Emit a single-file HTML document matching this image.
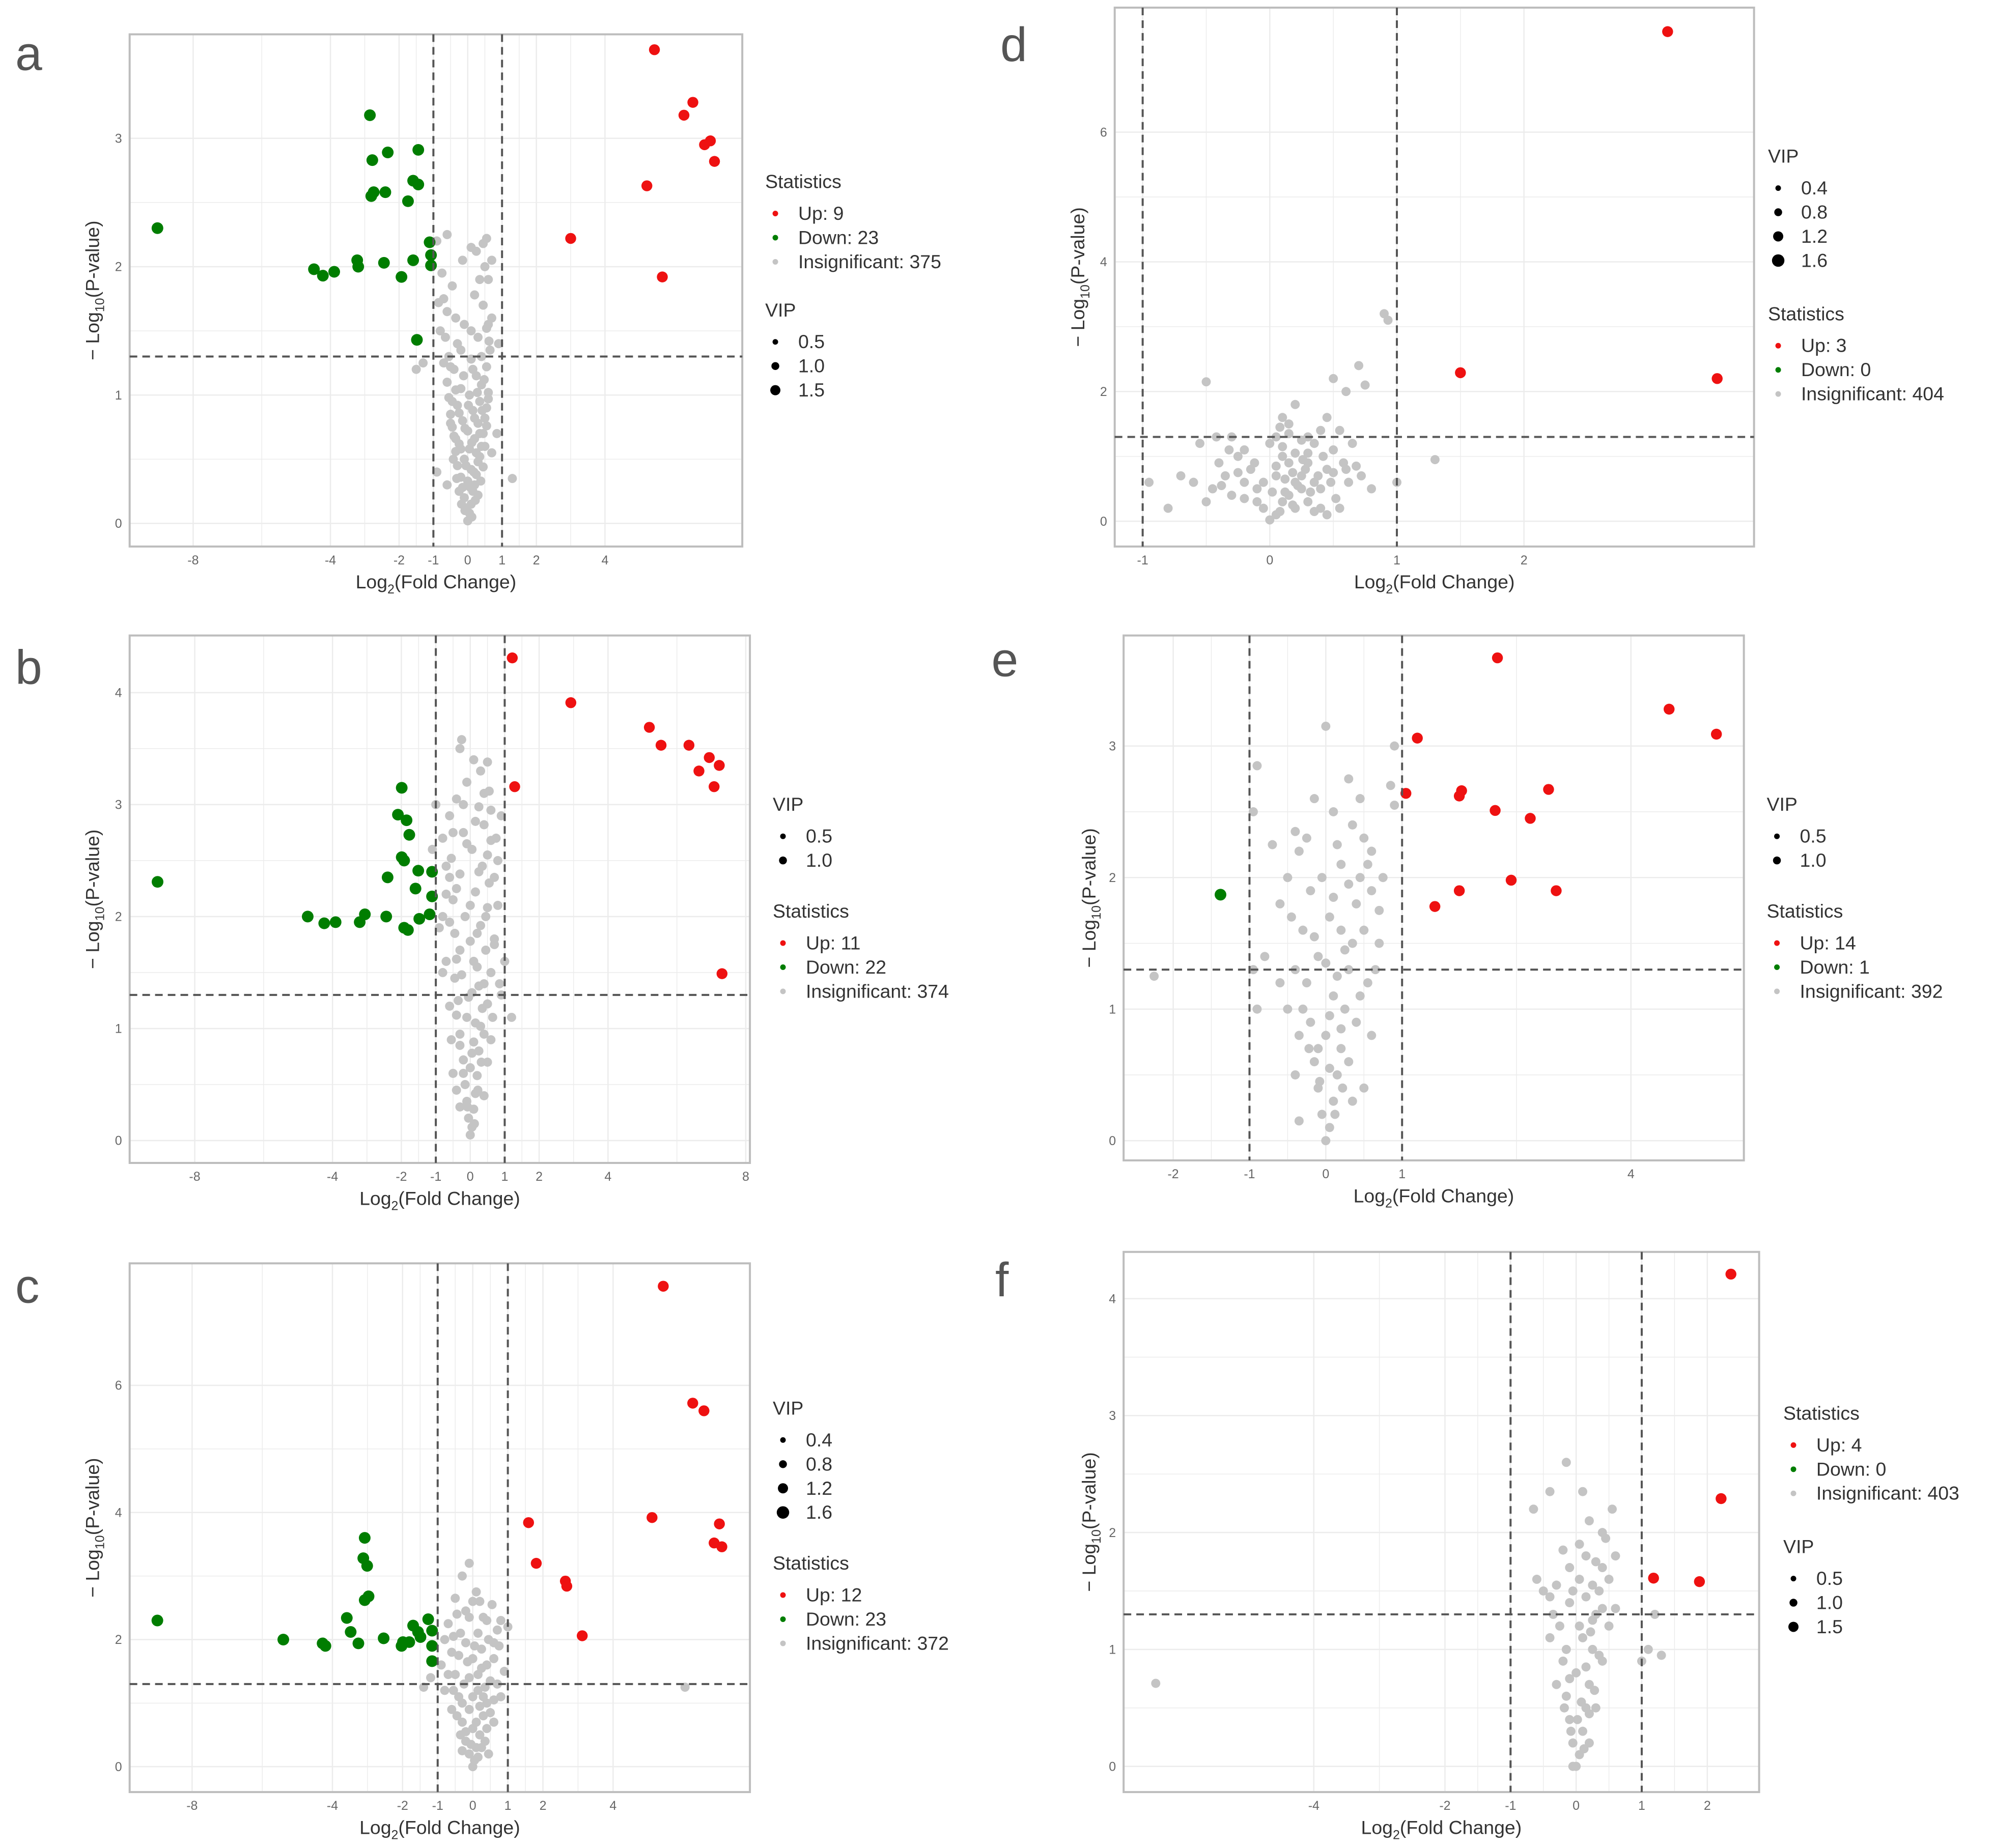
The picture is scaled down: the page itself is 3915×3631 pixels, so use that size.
<!DOCTYPE html>
<html><head><meta charset="utf-8"><style>
html,body{margin:0;padding:0;background:#fff;}
svg{display:block;font-family:"Liberation Sans",sans-serif;}
</style></head><body>
<svg id="fig" width="3915" height="3631" viewBox="0 0 1568 1454" preserveAspectRatio="none" xmlns="http://www.w3.org/2000/svg"></svg>
<script>
// ---- data ----
const aRed=[[5.44,3.69],[6.56,3.28],[6.3,3.18],[7.07,2.98],[6.9,2.95],[7.19,2.82],[5.22,2.63],[3.0,2.22],[5.67,1.92]];
const aGreen=[[-9.04,2.3],[-2.85,3.18],[-2.78,2.83],[-2.33,2.89],[-1.44,2.91],[-1.59,2.67],[-1.44,2.64],[-2.74,2.58],[-2.81,2.55],[-2.4,2.58],[-1.74,2.51],[-1.11,2.19],[-1.07,2.09],[-1.07,2.01],[-1.59,2.05],[-2.44,2.03],[-3.22,2.05],[-3.19,2.0],[-4.48,1.98],[-3.89,1.96],[-4.22,1.93],[-1.93,1.92],[-1.48,1.43]];
const aGray=[[0,0.02],[0.05,0.08],[-0.05,0.12],[0.1,0.15],[-0.1,0.2],[0.15,0.25],[-0.15,0.28],[0.2,0.3],[0,0.33],[-0.2,0.36],[0.25,0.38],[0.1,0.42],[-0.3,0.45],[0.3,0.48],[-0.1,0.5],[0.35,0.52],[-0.35,0.56],[0.05,0.58],[0.4,0.6],[-0.25,0.62],[0.2,0.66],[-0.4,0.68],[0.45,0.7],[0,0.72],[-0.45,0.75],[0.3,0.78],[-0.15,0.8],[0.5,0.82],[-0.5,0.85],[0.15,0.88],[0.55,0.9],[-0.3,0.92],[0.35,0.95],[-0.55,0.98],[0.05,1.0],[0.6,1.02],[-0.2,1.05],[0.4,1.08],[-0.6,1.1],[0.25,1.15],[-0.4,1.2],[0.55,1.22],[-0.7,1.25],[0.1,1.28],[-0.55,1.3],[0.65,1.35],[-0.3,1.4],[0.3,1.45],[-0.8,1.5],[0.55,1.52],[-0.1,1.55],[0.7,1.6],[-0.6,1.65],[0.45,1.7],[-0.85,1.72],[0.2,1.78],[-0.45,1.85],[0.6,1.9],[-0.75,1.95],[0.5,2.0],[-0.15,2.05],[0.25,2.12],[-0.9,2.2],[0.55,2.22],[0.45,2.18],[1.3,0.35],[-1.5,1.2],[-1.3,1.25],[0.9,1.4],[-0.9,0.4],[0.7,0.55],[-0.6,0.3],[0.85,0.7],
[0.12,0.05],[-0.08,0.1],[0.22,0.18],[-0.18,0.15],[0.3,0.22],[-0.25,0.25],[0.08,0.28],[0.38,0.33],[-0.32,0.35],[0.18,0.4],[-0.05,0.45],[0.45,0.44],[-0.42,0.5],[0.25,0.55],[-0.2,0.58],[0.5,0.6],[0.12,0.63],[-0.35,0.66],[0.35,0.7],[-0.08,0.74],[0.55,0.76],[-0.5,0.78],[0.2,0.82],[-0.25,0.86],[0.42,0.88],[0.02,0.92],[-0.45,0.95],[0.6,0.97],[0.28,1.02],[-0.35,1.04],[0.48,1.12],[-0.12,1.15],[0.15,1.2],[-0.5,1.22],[0.4,1.3],[-0.2,1.35],[0.62,1.42],[-0.65,1.45],[0.1,1.5],[-0.35,1.6],[0.6,1.55],[-0.7,1.75],[0.35,1.9],[0.1,2.15],[-0.6,2.25],[0.7,2.05]];
const bRed=[[1.22,4.31],[2.92,3.91],[5.2,3.69],[5.54,3.53],[6.35,3.53],[6.94,3.42],[7.23,3.35],[6.64,3.3],[7.08,3.16],[1.29,3.16],[7.31,1.49]];
const bGreen=[[-9.08,2.31],[-1.99,3.15],[-2.1,2.91],[-1.85,2.86],[-1.77,2.73],[-1.99,2.53],[-1.92,2.5],[-2.4,2.35],[-1.51,2.41],[-1.59,2.25],[-1.11,2.4],[-4.72,2.0],[-4.24,1.94],[-3.91,1.95],[-3.21,1.95],[-3.06,2.02],[-2.44,2.0],[-1.92,1.9],[-1.81,1.88],[-1.48,1.98],[-1.18,2.02],[-1.11,2.18]];
const bGray=[[0,0.05],[0.05,0.12],[-0.05,0.2],[0.1,0.28],[-0.1,0.35],[0.15,0.42],[-0.15,0.5],[0.2,0.58],[0,0.65],[-0.2,0.72],[0.25,0.8],[0.1,0.88],[-0.3,0.95],[0.3,1.02],[-0.1,1.1],[0.35,1.18],[-0.35,1.25],[0.05,1.32],[0.4,1.4],[-0.25,1.48],[0.2,1.55],[-0.4,1.62],[0.45,1.7],[0,1.78],[-0.45,1.85],[0.3,1.92],[-0.15,2.0],[0.5,2.08],[-0.5,2.15],[0.15,2.22],[0.55,2.3],[-0.3,2.38],[0.35,2.45],[-0.55,2.52],[0.05,2.6],[0.6,2.68],[-0.2,2.75],[0.4,2.82],[-0.6,2.9],[0.25,2.98],[-0.4,3.05],[0.55,3.12],[-0.1,3.2],[0.3,3.3],[-0.3,3.5],[-0.25,3.58],[0.5,3.38],[0.9,1.3],[-0.8,1.5],[1.2,1.1],[-1.1,2.6],[0.8,2.5],[-0.7,2.2],[0.7,1.8],[-0.9,1.9],[1.0,1.6],[-0.6,1.2],[0.6,0.9],[-0.5,0.6],[0.4,0.4],[-0.3,0.3],[-1.0,3.0],[0.9,2.9],[-0.8,2.7],
[0.12,0.15],[-0.08,0.3],[0.22,0.45],[-0.2,0.6],[0.32,0.7],[0.05,0.78],[-0.3,0.85],[0.4,0.95],[0.15,1.05],[-0.4,1.12],[0.5,1.22],[-0.05,1.28],[0.25,1.38],[-0.45,1.45],[0.6,1.5],[0.1,1.6],[-0.3,1.7],[0.7,1.75],[0.2,1.85],[-0.6,1.95],[0.45,2.0],[0.0,2.1],[-0.4,2.25],[0.7,2.35],[0.25,2.4],[-0.7,2.45],[0.5,2.55],[-0.1,2.65],[0.75,2.7],[0.15,2.85],[-0.5,2.75],[0.6,2.95],[-0.2,3.0],[0.4,3.1],[0.1,3.4],[-0.6,2.35],[0.8,2.1],[-0.8,2.0],[0.85,1.4],[-0.7,1.6],[0.65,1.1],[-0.55,0.9],[0.5,0.7],[-0.4,0.45]];
const cRed=[[5.43,7.56],[6.27,5.72],[6.59,5.6],[1.59,3.84],[5.11,3.92],[7.03,3.82],[6.88,3.52],[7.1,3.46],[1.81,3.2],[2.64,2.92],[2.68,2.84],[3.12,2.06]];
const cGreen=[[-8.99,2.3],[-3.08,3.6],[-3.12,3.28],[-3.01,3.16],[-3.08,2.62],[-2.97,2.68],[-3.59,2.34],[-3.48,2.12],[-3.26,1.94],[-2.54,2.02],[-5.4,2.0],[-4.28,1.94],[-4.2,1.9],[-2.03,1.9],[-1.81,1.96],[-1.7,2.22],[-1.56,2.12],[-1.49,2.04],[-1.27,2.32],[-1.16,2.14],[-1.16,1.9],[-1.16,1.66],[-1.99,1.96]];
const cGray=[[0,0],[0.05,0.1],[-0.1,0.2],[0.1,0.3],[-0.2,0.4],[0.2,0.5],[0,0.6],[-0.3,0.7],[0.3,0.8],[-0.1,0.9],[0.4,1.0],[-0.4,1.1],[0.15,1.2],[-0.25,1.3],[0.5,1.35],[-0.5,1.45],[0.25,1.55],[-0.15,1.65],[0.6,1.7],[-0.6,1.8],[0.05,1.9],[0.45,2.0],[-0.35,2.1],[0.7,2.15],[-0.7,2.25],[0.3,2.35],[-0.2,2.45],[0.55,2.55],[-0.5,2.65],[0.1,2.75],[-0.3,3.0],[-0.1,3.2],[0.8,2.3],[1.0,2.2],[-0.9,1.6],[-1.2,1.4],[-1.4,1.25],[0.9,1.5],[0.6,0.7],[-0.6,0.9],[0.8,1.1],[-0.8,1.2],[0.35,0.4],[-0.35,0.5],[6.05,1.25],[0.2,2.6],[-0.45,2.4],[0.75,1.9],[-0.8,2.0],
[0.15,0.15],[-0.05,0.35],[0.25,0.3],[-0.2,0.55],[0.4,0.6],[0.1,0.7],[-0.45,0.8],[0.5,0.85],[0.2,0.95],[-0.3,1.0],[0.6,1.05],[0.0,1.1],[-0.55,1.2],[0.35,1.25],[-0.1,1.4],[0.7,1.3],[0.15,1.45],[-0.7,1.45],[0.4,1.6],[0.0,1.7],[-0.4,1.75],[0.25,1.85],[-0.2,1.95],[0.6,1.95],[-0.55,2.05],[0.15,2.1],[0.4,2.3],[-0.1,2.35],[0.0,2.6],[0.3,1.1],[-0.3,0.25],[0.45,0.2]];
const dRed=[[3.13,7.55],[1.5,2.29],[3.52,2.2]];
const dGreen=[];
const dGray=[[0,0.02],[0.05,0.1],[-0.05,0.2],[0.1,0.3],[0.15,0.4],[-0.1,0.5],[0.2,0.6],[0.25,0.7],[-0.15,0.8],[0.3,0.9],[0.1,1.0],[-0.2,1.1],[0.35,1.2],[0.05,1.3],[0.15,1.5],[0.1,1.6],[0.2,1.8],[0.4,0.5],[0.45,0.8],[0.5,1.1],[0.55,1.4],[0.45,1.6],[0.6,2.0],[0.5,2.2],[0.7,2.4],[0.75,2.1],[0.9,3.2],[0.93,3.1],[0.3,0.3],[-0.3,0.4],[-0.35,0.7],[-0.4,0.9],[-0.5,0.3],[-0.55,1.2],[-0.6,0.6],[-0.7,0.7],[-0.5,2.15],[-0.95,0.6],[-0.8,0.2],[0.8,0.5],[1.0,0.6],[1.3,0.95],[0.2,0.2],[0.25,0.5],[0.35,0.6],[0.4,0.2],[-0.25,1.0],[0.3,1.3],[0.05,0.7],[0.15,0.9],[-0.1,0.3],[0.6,0.8],[0.65,1.2],[-0.2,0.6],[-0.45,0.5],[0.0,1.2],[0.45,0.1],[-0.3,1.3],
[0.08,0.15],[0.12,0.45],[0.18,0.25],[0.22,0.55],[0.28,0.8],[0.32,0.45],[0.38,0.7],[0.42,1.0],[0.48,0.6],[0.52,0.35],[0.58,0.9],[0.62,0.6],[0.68,0.85],[0.72,0.7],[0.05,0.85],[0.1,1.15],[0.15,1.35],[0.2,1.05],[0.25,1.25],[0.08,1.45],[0.12,0.65],[-0.05,0.6],[-0.12,0.9],[-0.2,0.35],[-0.25,0.75],[-0.32,1.1],[-0.38,0.55],[-0.42,1.3],[0.35,0.15],[0.55,0.2],[0.3,1.05],[0.4,1.4],[0.02,0.45],[0.18,0.75],[0.26,0.95],[0.5,0.75]];
const eRed=[[2.25,3.67],[4.5,3.28],[5.12,3.09],[1.2,3.06],[1.05,2.64],[1.75,2.62],[1.78,2.66],[2.92,2.67],[2.22,2.51],[2.68,2.45],[2.43,1.98],[1.75,1.9],[1.43,1.78],[3.02,1.9]];
const eGreen=[[-1.38,1.87]];
const eGray=[[0,0],[0.05,0.1],[-0.05,0.2],[0.1,0.3],[-0.1,0.4],[0.15,0.5],[-0.15,0.6],[0.2,0.7],[0,0.8],[-0.2,0.9],[0.25,1.0],[0.1,1.1],[-0.25,1.2],[0.3,1.3],[-0.1,1.4],[0.35,1.5],[-0.3,1.6],[0.05,1.7],[0.4,1.8],[-0.2,1.9],[0.45,2.0],[0.2,2.1],[-0.35,2.2],[0.5,2.3],[0.1,2.5],[0.3,2.75],[0.0,3.15],[0.9,3.0],[0.85,2.7],[0.9,2.55],[-0.4,2.35],[-0.7,2.25],[-0.9,2.85],[-0.95,2.5],[-0.6,1.8],[-0.8,1.4],[-0.9,1.0],[-0.95,1.3],[-2.25,1.25],[0.55,1.2],[0.6,0.8],[0.7,1.5],[0.5,0.4],[-0.4,0.5],[-0.5,1.0],[0.35,0.3],[-0.35,0.8],[0.2,1.6],[0.6,1.9],[0.75,2.0],[-0.15,2.6],[-0.35,0.15],
[0.12,0.2],[-0.08,0.45],[0.22,0.4],[-0.22,0.7],[0.3,0.6],[0.05,0.95],[-0.3,1.0],[0.4,0.9],[0.15,1.25],[-0.4,1.3],[0.45,1.1],[0.0,1.35],[-0.15,1.55],[0.25,1.45],[0.5,1.6],[-0.45,1.7],[0.1,1.85],[0.3,1.95],[-0.05,2.0],[0.55,2.1],[-0.25,2.3],[0.35,2.4],[0.6,2.2],[-0.5,2.0],[0.15,2.25],[0.45,2.6],[0.7,1.75],[0.65,1.3],[-0.6,1.2],[-0.1,0.7],[0.2,0.85],[0.05,0.55]];
const fRed=[[2.36,4.21],[2.21,2.29],[1.18,1.61],[1.88,1.58]];
const fGreen=[];
const fGray=[[0,0],[0.05,0.1],[-0.05,0.2],[0.1,0.3],[-0.1,0.4],[0.15,0.5],[-0.15,0.6],[0.2,0.7],[0,0.8],[-0.2,0.9],[0.25,1.0],[0.1,1.1],[-0.25,1.2],[0.3,1.3],[-0.1,1.4],[0.35,1.5],[-0.3,1.55],[0.05,1.6],[0.4,1.7],[-0.2,1.85],[0.45,1.95],[0.2,2.1],[0.55,2.2],[0.1,2.35],[-0.15,2.6],[-0.4,2.35],[-0.65,2.2],[-0.5,1.5],[-0.6,1.6],[0.6,1.8],[0.5,1.6],[0.3,0.5],[-0.3,0.7],[0.4,0.9],[-0.4,1.1],[0.5,1.2],[1.1,1.0],[1.2,1.3],[1.0,0.9],[1.3,0.95],[-6.41,0.71],[0.6,1.35],[0.2,0.2],[-0.05,0.0],[0.15,1.8],
[0.12,0.15],[-0.08,0.3],[0.2,0.45],[-0.18,0.5],[0.08,0.55],[0.28,0.65],[-0.1,0.75],[0.15,0.85],[0.35,0.95],[-0.15,1.0],[0.05,1.2],[0.22,1.15],[-0.35,1.3],[0.4,1.35],[0.15,1.45],[-0.05,1.5],[0.25,1.55],[-0.4,1.45],[0.3,1.75],[-0.1,1.7],[0.05,1.9],[0.4,2.0],[0.25,1.25],[0.02,0.4]];
const aXTicks=[-8,-4,-2,-1,0,1,2,4], aYTicks=[0,1,2,3];
const bXTicks=[-8,-4,-2,-1,0,1,2,4,8], bYTicks=[0,1,2,3,4];
const cXTicks=[-8,-4,-2,-1,0,1,2,4], cYTicks=[0,2,4,6];
const dXTicks=[-1,0,1,2], dYTicks=[0,2,4,6];
const eXTicks=[-2,-1,0,1,4], eYTicks=[0,1,2,3];
const fXTicks=[-4,-2,-1,0,1,2], fYTicks=[0,1,2,3,4];
const aStats=["Up: 9","Down: 23","Insignificant: 375"], aVip=["0.5","1.0","1.5"];
const bStats=["Up: 11","Down: 22","Insignificant: 374"], bVip=["0.5","1.0"];
const cStats=["Up: 12","Down: 23","Insignificant: 372"], cVip=["0.4","0.8","1.2","1.6"];
const dStats=["Up: 3","Down: 0","Insignificant: 404"], dVip=["0.4","0.8","1.2","1.6"];
const eStats=["Up: 14","Down: 1","Insignificant: 392"], eVip=["0.5","1.0"];
const fStats=["Up: 4","Down: 0","Insignificant: 403"], fVip=["0.5","1.0","1.5"];

const NS="http://www.w3.org/2000/svg";
const svg=document.getElementById('fig');
function mk(tag,attrs,parent){const e=document.createElementNS(NS,tag);for(const k in attrs)e.setAttribute(k,attrs[k]);(parent||svg).appendChild(e);return e;}

const panels=[
 {id:'a',box:[102,27,584,430],xd:[-9.85,8.0],yd:[-0.18,3.81],xt:aXTicks,yt:aYTicks,red:aRed,green:aGreen,gray:aGray,stats:aStats,vip:aVip,lbl:[12,55],lx:602,statY:148,vipY:249,ytx:78},
 {id:'b',box:[102,500,590,915],xd:[-9.89,8.12],yd:[-0.2,4.51],xt:bXTicks,yt:bYTicks,red:bRed,green:bGreen,gray:bGray,stats:bStats,vip:bVip,lbl:[12,538],lx:608,statY:722,vipY:638,ytx:78},
 {id:'c',box:[102,994,590,1410],xd:[-9.78,7.9],yd:[-0.4,7.92],xt:cXTicks,yt:cYTicks,red:cRed,green:cGreen,gray:cGray,stats:cStats,vip:cVip,lbl:[12,1025],lx:608,statY:1235,vipY:1113,ytx:78},
 {id:'d',box:[877,6,1380,430],xd:[-1.22,3.81],yd:[-0.39,7.92],xt:dXTicks,yt:dYTicks,red:dRed,green:dGreen,gray:dGray,stats:dStats,vip:dVip,lbl:[787,48],lx:1391,statY:252,vipY:128,ytx:853},
 {id:'e',box:[884,500,1372,913],xd:[-2.65,5.48],yd:[-0.15,3.84],xt:eXTicks,yt:eYTicks,red:eRed,green:eGreen,gray:eGray,stats:eStats,vip:eVip,lbl:[780,532],lx:1390,statY:722,vipY:638,ytx:862},
 {id:'f',box:[884,985,1384,1410],xd:[-6.9,2.79],yd:[-0.22,4.4],xt:fXTicks,yt:fYTicks,red:fRed,green:fGreen,gray:fGray,stats:fStats,vip:fVip,lbl:[783,1020],lx:1403,statY:1117,vipY:1222,ytx:862}
];

panels.forEach(p=>{
 const [x1,y1,x2,y2]=p.box;
 const sx=v=>x1+(v-p.xd[0])/(p.xd[1]-p.xd[0])*(x2-x1);
 const sy=v=>y2-(v-p.yd[0])/(p.yd[1]-p.yd[0])*(y2-y1);
 const g=mk('g',{});
 
 
 const gridG=mk('g',{},g);
 
 
 const xs=p.xt.slice().sort((a,b)=>a-b), ys=p.yt.slice();
 const minor=(arr)=>{const m=[];for(let i=0;i<arr.length-1;i++)m.push((arr[i]+arr[i+1])/2);return m;};
 xs.concat(minor(xs)).forEach(v=>{const X=sx(v);if(X>x1&&X<x2)mk('line',{x1:X,x2:X,y1:y1,y2:y2,stroke:'#ececec','stroke-width':minor(xs).includes(v)?0.6:1},gridG);});
 ys.concat(minor(ys)).forEach(v=>{const Y=sy(v);if(Y>y1&&Y<y2)mk('line',{x1:x1,x2:x2,y1:Y,y2:Y,stroke:'#ececec','stroke-width':minor(ys).includes(v)?0.6:1},gridG);});
 const fr=mk('rect',{x:x1,y:y1,width:x2-x1,height:y2-y1,fill:'none',stroke:'#bdbdbd','stroke-width':1.6},g);
 
 
 p.gray.forEach(d=>{const c=mk('circle',{cx:sx(d[0]),cy:sy(d[1]),r:3.6,fill:'#c4c4c4'},g);
  
  });
 p.green.forEach(d=>{const c=mk('circle',{cx:sx(d[0]),cy:sy(d[1]),r:4.6,fill:'#007d00'},g);
  
  });
 p.red.forEach(d=>{const c=mk('circle',{cx:sx(d[0]),cy:sy(d[1]),r:4.3,fill:'#ee1111'},g);
  
  });
 [-1,1].forEach(v=>{const l=mk('line',{x1:sx(v),x2:sx(v),y1:y1,y2:y2,stroke:'#555','stroke-width':1.6,'stroke-dasharray':'6,4'},g);
  
  });
 const h=mk('line',{x1:x1,x2:x2,y1:sy(1.3),y2:sy(1.3),stroke:'#555','stroke-width':1.6,'stroke-dasharray':'6,4'},g);
 
 
 p.xt.forEach(v=>{const t=mk('text',{x:sx(v),y:y2+14,'font-size':10,fill:'#666','text-anchor':'middle'},g);t.textContent=v;
  
  });
 p.yt.forEach(v=>{const t=mk('text',{x:x1-6,y:sy(v)+3.5,'font-size':10,fill:'#666','text-anchor':'end'},g);t.textContent=v;
  
  });
 const xt=mk('text',{x:(x1+x2)/2,y:y2+33,'font-size':15,fill:'#333','text-anchor':'middle'},g);
 xt.innerHTML='Log<tspan font-size="10" dy="4">2</tspan><tspan dy="-4">(Fold Change)</tspan>';
 
 
 const yc=(y1+y2)/2;
 const yt=mk('text',{x:p.ytx,y:yc,'font-size':15,fill:'#333','text-anchor':'middle',transform:`rotate(-90 ${p.ytx} ${yc})`},g);
 yt.innerHTML='− Log<tspan font-size="10" dy="4">10</tspan><tspan dy="-4">(P-value)</tspan>';
 
 
 const L=mk('text',{x:p.lbl[0],y:p.lbl[1],'font-size':38,fill:'#555'},g);L.textContent=p.id;
 
 
 const lg=mk('g',{},g);
 
 
 const st=mk('text',{x:p.lx,y:p.statY,'font-size':15,fill:'#333'},lg);st.textContent='Statistics';
 
 
 const cols=['#ee1111','#007d00','#c4c4c4'];
 p.stats.forEach((s,i)=>{const Y=p.statY+25+i*19;
  const c=mk('circle',{cx:p.lx+8,cy:Y-5,r:2.2,fill:cols[i]},lg);
  
  
  const t=mk('text',{x:p.lx+26,y:Y,'font-size':15,fill:'#333'},lg);t.textContent=s;
  
  });
 const vt=mk('text',{x:p.lx,y:p.vipY,'font-size':15,fill:'#333'},lg);vt.textContent='VIP';
 
 
 p.vip.forEach((s,i)=>{const Y=p.vipY+25+i*19;
  const c=mk('circle',{cx:p.lx+8,cy:Y-5,r:2.2+i*0.9,fill:'#000'},lg);
  
  
  const t=mk('text',{x:p.lx+26,y:Y,'font-size':15,fill:'#333'},lg);t.textContent=s;
  
  });
});
</script>
</body></html>
